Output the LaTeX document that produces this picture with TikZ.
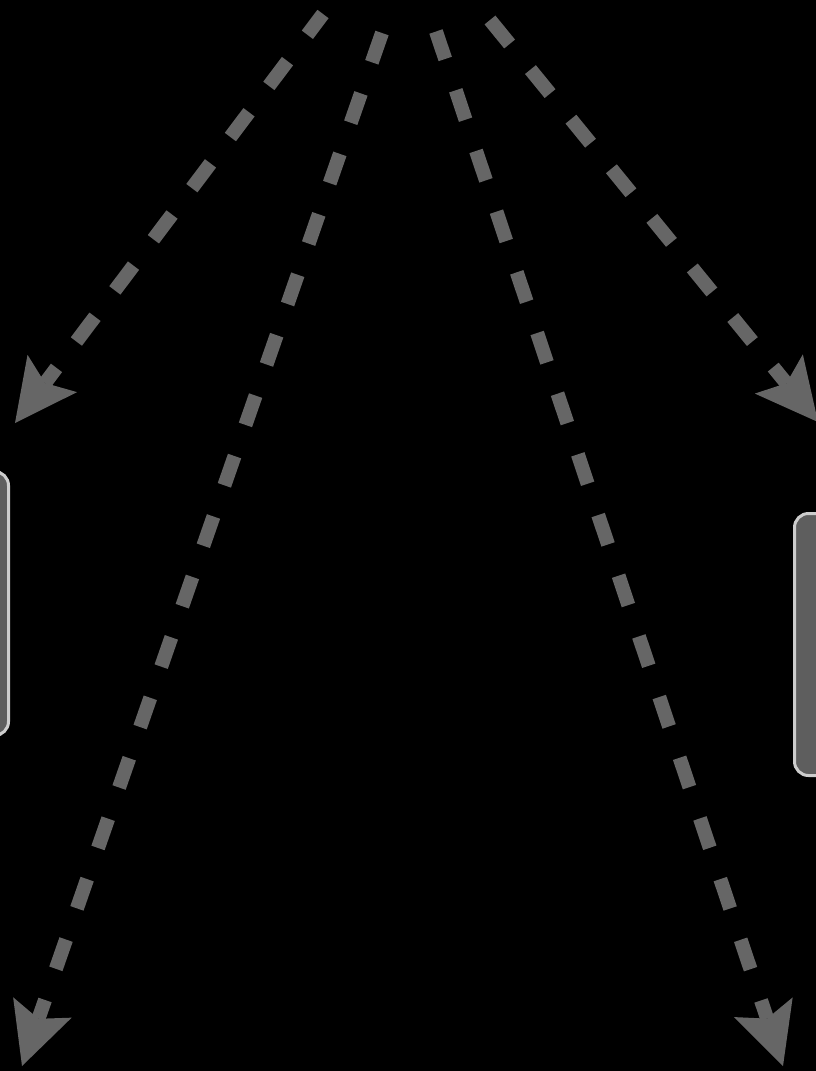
\documentclass[tikz,border=0pt]{standalone}
\usetikzlibrary{arrows.meta}
\definecolor{arrowgray}{HTML}{666666}
\definecolor{boxfill}{HTML}{5E5E5E}
\definecolor{boxline}{HTML}{CDCDCD}
\begin{document}
\begin{tikzpicture}[x=1pt,y=-1pt,
  flow/.style={draw=arrowgray, line width=14pt, dash pattern=on 31pt off 33pt,
    -{Stealth[length=62pt,width=62pt,inset=12pt,line width=0pt]}},
  panel/.style={draw=boxline, fill=boxfill, line width=3pt, rounded corners=14pt,
    minimum width=97pt, inner sep=0pt}]
\fill[black] (0,0) rectangle (816,1071);
\useasboundingbox (0,0) rectangle (816,1071);
\clip (0,0) rectangle (816,1071);
% partial panels at the edges
\node[panel, minimum height=264pt] (leftpanel) at (-40,603.5) {};
\node[panel, minimum height=262pt] (rightpanel) at (843,644.5) {};
% start and end points of the connectors
\coordinate (s1) at (323,14);
\coordinate (s2) at (382,33);
\coordinate (s3) at (436,31.5);
\coordinate (s4) at (490,20);
\coordinate (e1) at (15,423);
\coordinate (e2) at (22,1066);
\coordinate (e3) at (783,1066);
\coordinate (e4) at (818,422);
\draw[flow, dash phase=5pt] (s1) -- (e1);
\draw[flow] (s2) -- (e2);
\draw[flow, dash phase=2pt] (s3) -- (e3);
\draw[flow] (s4) -- (e4);
\end{tikzpicture}
\end{document}
